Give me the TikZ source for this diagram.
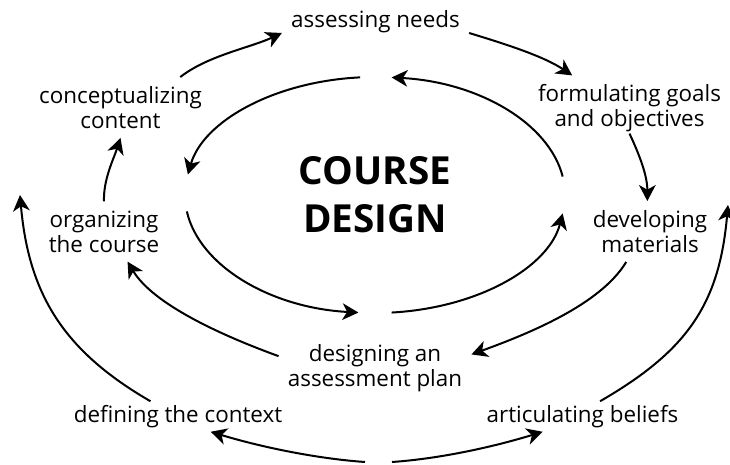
\documentclass[tikz,border=0pt]{standalone}
\usepackage{fontspec}
\setmainfont{Open Sans}
\usetikzlibrary{arrows.meta}
\begin{document}
\begin{tikzpicture}[x=0.75pt,y=0.75pt,font={\fontsize{16.8}{18.75}\selectfont},
  stage/.style={align=center,inner sep=3pt,outer sep=4pt},
  base/.style={align=center,inner sep=3pt,outer sep=0pt},
  arr/.style={-{Stealth[length=12pt,width=12.5pt,inset=3.5pt]},line width=1.5pt}]
\useasboundingbox(0,0) rectangle (730,464);
\node[font={\bfseries\fontsize{29}{36}\selectfont},align=center](title) at (375,269){COURSE\\DESIGN};
\node[stage](needs) at (375.5,442.5){assessing needs};
\node[stage](goals) at (629.5,355.5){formulating goals\\and objectives};
\node[stage](concept) at (120.5,356.5){conceptualizing\\content};
\node[stage](organize) at (104,232.5){organizing\\the course};
\node[stage](develop) at (650,232.5){developing\\materials};
\node[stage](assess) at (375,96){designing an\\assessment plan};
\node[base](context) at (178,47.5){defining the context};
\node[base](beliefs) at (582.5,47.5){articulating beliefs};
\coordinate(footL) at (365,2);
\coordinate(footR) at (392,2);
\coordinate(edgeL) at (20,269);
\coordinate(edgeR) at (728,259);
% inner ring
\foreach \a/\b in {94.5/170,188/265,275/351,9/85}{\draw[arr]([shift={(\a:190 and 118)}]375,269) arc (\a:\b:190 and 118);}
% outer ring
\draw[arr](concept.27) .. controls +(38:35) and +(205:35) .. (needs.187);
\draw[arr](needs.-7) .. controls +(-17:35) and +(146:35) .. (goals.150);
\draw[arr]([yshift=6pt]goals.south) .. controls +(-65:25) and +(90:25) .. (develop.95);
\draw[arr](develop.232) .. controls +(239:50) and +(20:60) .. (assess.8);
\draw[arr](assess.173) .. controls +(160:60) and +(-59:50) .. (organize.-52);
\draw[arr](organize.north) .. controls +(92:22) and +(-108:22) .. (concept.south);
\draw[arr](footL) .. controls +(176:50) and +(-17:50) .. (context.-25);
\draw[arr](footR) .. controls +(4:50) and +(197:50) .. (beliefs.201);
\draw[arr](context.151) .. controls +(150:100) and +(-85:100) .. (edgeL);
\draw[arr](beliefs.41) .. controls +(30:100) and +(-95:100) .. (edgeR);
\end{tikzpicture}
\end{document}
